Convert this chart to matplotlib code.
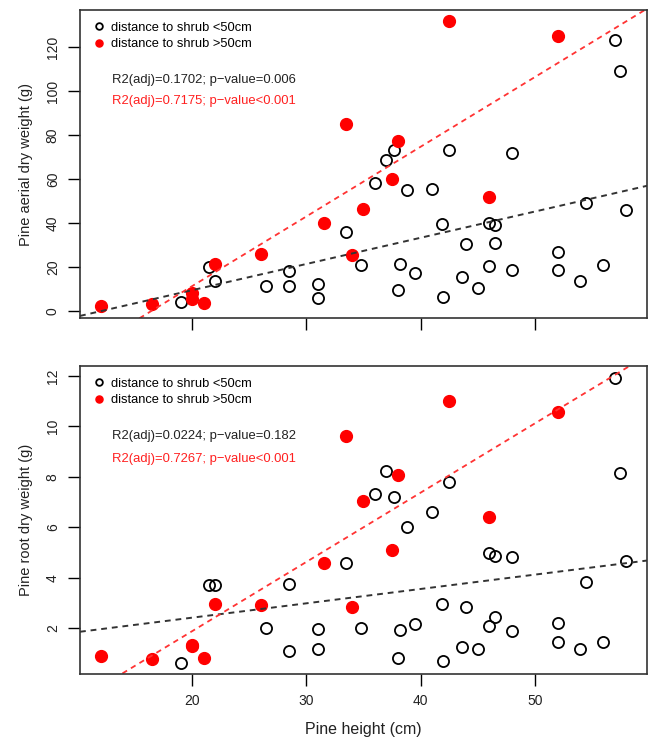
import numpy as np
import matplotlib
matplotlib.use("Agg")
import matplotlib.pyplot as plt

plt.rcParams["font.family"] = ["Liberation Sans", "DejaVu Sans"]

# pine height (cm), shared by both panels
near_x = [19, 21.5, 22, 26.5, 28.5, 28.5, 31, 31, 33.5, 34.8, 38.2, 38, 39.5,
          36, 37, 37.7, 38.8, 41, 42.5, 41.9, 43.6, 44, 42, 45, 46, 46, 46.5,
          46.5, 48, 48, 52, 52, 54, 54.5, 56, 57, 57.5, 58]
far_x = [12, 16.5, 20, 20, 21, 22, 26, 31.5, 33.5, 34, 35, 37.5, 38, 42.5, 46, 52]

# aerial dry weight (g)
near_aerial = [4.1, 20.2, 13.8, 11.4, 11.4, 18.3, 12.3, 6.0, 35.9, 20.8, 21.5,
               9.4, 17.3, 58.2, 68.5, 73.0, 54.8, 55.3, 73.0, 39.5, 15.5, 30.5,
               6.5, 10.5, 20.5, 40.1, 39.2, 30.7, 18.6, 72.0, 26.7, 18.5, 13.6,
               49.2, 21.0, 123.3, 109.2, 45.9]
far_aerial = [2.3, 3.0, 8.0, 5.3, 3.5, 21.4, 25.9, 40.1, 85, 25.3, 46.2, 59.9,
              77.1, 131.7, 51.8, 125]

# root dry weight (g)
near_root = [0.61, 3.70, 3.70, 2.01, 1.11, 3.75, 1.98, 1.18, 4.57, 2.01, 1.93,
             0.84, 2.16, 7.31, 8.24, 7.19, 6.01, 6.62, 7.78, 2.96, 1.25, 2.86,
             0.69, 1.19, 2.10, 4.98, 4.88, 2.45, 1.89, 4.82, 2.22, 1.44, 1.17,
             3.83, 1.47, 11.93, 8.16, 4.68]
far_root = [0.90, 0.77, 1.33, 1.28, 0.81, 2.98, 2.92, 4.57, 9.60, 2.86, 7.04,
            5.09, 8.06, 10.99, 6.40, 10.55]

stats_aerial = ["R2(adj)=0.1702; p\u2212value=0.006", "R2(adj)=0.7175; p\u2212value<0.001"]
stats_root = ["R2(adj)=0.0224; p\u2212value=0.182", "R2(adj)=0.7267; p\u2212value<0.001"]

fig = plt.figure(figsize=(6.55, 7.38), dpi=100)
ax1 = fig.add_axes([0.1221, 0.5691, 0.8657, 0.4173])
ax2 = fig.add_axes([0.1221, 0.0867, 0.8657, 0.4174])


def panel(ax, ny, fy, stats, ylim, yticks, ylabel, text_y):
    xlim = (10.16, 59.84)
    ax.plot(near_x, ny, "o", ms=8, mfc="none", mec="black", mew=1.3, ls="none",
            label="distance to shrub <50cm")
    ax.plot(far_x, fy, "o", ms=8.5, mfc="red", mec="red", ls="none",
            label="distance to shrub >50cm")
    xs = np.array(xlim)
    b, a = np.polyfit(near_x, ny, 1)
    ax.plot(xs, a + b * xs, color="#333333", ls=(0, (3, 2.5)), lw=1.4)
    b, a = np.polyfit(far_x, fy, 1)
    ax.plot(xs, a + b * xs, color="#ff3333", ls=(0, (3, 2.5)), lw=1.3)
    ax.set_xlim(xlim)
    ax.set_ylim(ylim)
    ax.set_xticks([20, 30, 40, 50])
    ax.set_yticks(yticks)
    ax.set_yticklabels([str(t) for t in yticks], rotation=90, va="center")
    ax.tick_params(length=8.5, width=1, labelsize=10, colors="black",
                   labelcolor="#222222", pad=6)
    for s in ax.spines.values():
        s.set_linewidth(1.2)
        s.set_color("#333333")
    ax.set_ylabel(ylabel, fontsize=10.5, labelpad=9, color="#222222")
    ax.legend(loc="upper left", frameon=False, fontsize=9.3, markerscale=0.6,
              handletextpad=0.3, borderaxespad=0.5, labelspacing=0.35,
              handlelength=1.2)
    ax.text(13.0, text_y[0], stats[0], fontsize=9.4, color="#222222", va="center")
    ax.text(13.0, text_y[1], stats[1], fontsize=9.4, color="#ff2020", va="center")


panel(ax1, near_aerial, far_aerial, stats_aerial, (-3.2, 136.8),
      [0, 20, 40, 60, 80, 100, 120], "Pine aerial dry weight (g)", (105, 95.5))
ax1.set_xticklabels([])
panel(ax2, near_root, far_root, stats_root, (0.19, 12.39),
      [2, 4, 6, 8, 10, 12], "Pine root dry weight (g)", (9.6, 8.7))
ax2.set_xlabel("Pine height (cm)", fontsize=11.5, labelpad=10, color="#222222")

fig.savefig("out.png", dpi=100)
